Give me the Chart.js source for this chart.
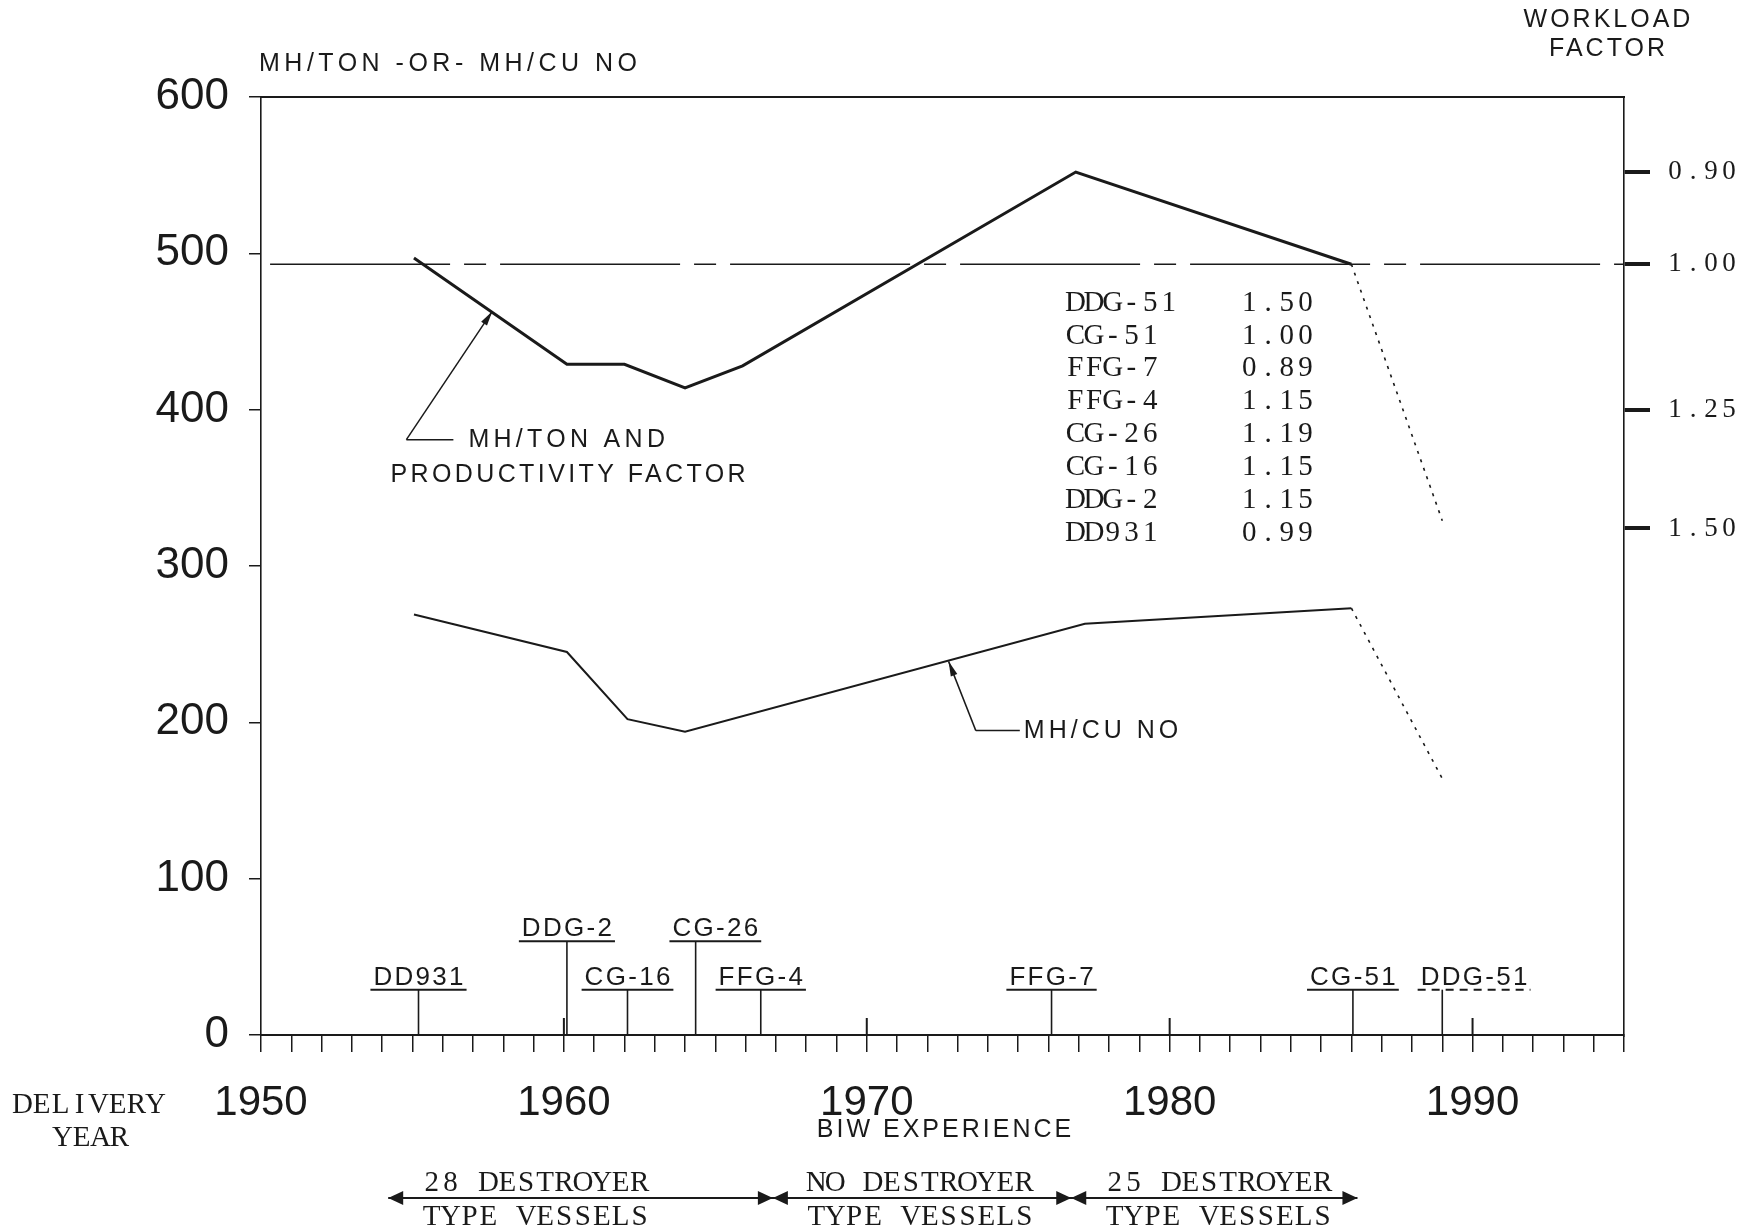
<!DOCTYPE html>
<html>
<head>
<meta charset="utf-8">
<script src="https://cdn.jsdelivr.net/npm/chart.js@4.4.1/dist/chart.umd.min.js"></script>
<style>
html, body { margin: 0; padding: 0; background: #fff; }
</style>
</head>
<body>
<canvas id="chart" width="1754" height="1230"></canvas>
<script>
// MH/TON (and productivity factor) by delivery year
const tonYears = [1955.05, 1960.1, 1962.0, 1964.0, 1965.9, 1976.9, 1986.0, 1989.0];
const tonValues = [497, 429, 429, 414, 428, 552, 493, 329];
const tonProjectedFrom = 6; // last segment is the dotted projection

// MH/CU NO by delivery year
const cuYears = [1955.05, 1960.1, 1962.1, 1964.0, 1977.2, 1986.0, 1989.0];
const cuValues = [269, 245, 202, 194, 263, 273, 164];
const cuProjectedFrom = 5;

// workload factor 1.00 reference line
const baseYears = [1950.3, 1995];
const baseValues = [493, 493];

const valueTicks = [0, 100, 200, 300, 400, 500, 600];
const yearLabels = ['1950', '1960', '1970', '1980', '1990'];
const decadeMarks = [1960, 1970, 1980, 1990];

// right hand axis: workload factor, placed on the MH/TON scale
const workloadTickValues = [552, 493, 400, 324];
const workloadTickLabels = ['0.90', '1.00', '1.25', '1.50'];

const shipNames = ['DD931', 'DDG-2', 'CG-16', 'CG-26', 'FFG-4', 'FFG-7', 'CG-51', 'DDG-51'];
const shipYears = [1955.2, 1960.1, 1962.1, 1964.35, 1966.5, 1976.1, 1986.05, 1989.0];
const workloadFactors = [0.99, 1.15, 1.15, 1.19, 1.15, 0.89, 1.00, 1.50];

const eraBounds = [1954.2, 1966.9, 1976.75, 1986.2];
const eraLabels = [['28 DESTROYER', 'TYPE VESSELS'], ['NO DESTROYER', 'TYPE VESSELS'], ['25 DESTROYER', 'TYPE VESSELS']];

// layout of the ship markers
const shipRow = [0, 1, 0, 1, 0, 0, 0, 0];
const rowLevels = [29, 60];
const shipLabelShift = [0, 0, 0, 0.65, 0, 0, 0, 1.05];

const ink = '#1a1a1a';
const sans = '"Liberation Sans", Arial, sans-serif';
const serif = '"Liberation Serif", "DejaVu Serif", serif';

const toPoints = (xs, ys) => xs.map((v, i) => ({ x: v, y: ys[i] }));

const line = (ctx, x1, y1, x2, y2) => {
    ctx.beginPath();
    ctx.moveTo(x1, y1);
    ctx.lineTo(x2, y2);
    ctx.stroke();
}

const arrowHead = (ctx, from, to, len, half) => {
    const a = Math.atan2(to[1] - from[1], to[0] - from[0]);
    ctx.beginPath();
    ctx.moveTo(to[0], to[1]);
    ctx.lineTo(to[0] - len * Math.cos(a) + half * Math.sin(a), to[1] - len * Math.sin(a) - half * Math.cos(a));
    ctx.lineTo(to[0] - len * Math.cos(a) - half * Math.sin(a), to[1] - len * Math.sin(a) + half * Math.cos(a));
    ctx.closePath();
    ctx.fill();
}

// typewriter style text: one character per fixed cell
const monoText = (ctx, text, x, y, cell) => {
    ctx.textAlign = 'center';
    for (let i = 0; i < text.length; i++) {
        ctx.fillText(text[i], x + cell * (i + 0.5), y);
    }
}

const spacedText = (ctx, text, x, y, spacing, align) => {
    ctx.letterSpacing = spacing + 'px';
    const w = ctx.measureText(text).width - spacing;
    let left = x;
    if (align === 'center') left = x - w / 2;
    ctx.textAlign = 'left';
    ctx.fillText(text, left, y);
    ctx.letterSpacing = '0px';
    return { left: left, width: w };
}

const notes = {
    id: 'notes',
    afterDraw(chart) {
        const { ctx, scales } = chart;
        const px = v => scales.x.getPixelForValue(v);
        const py = v => scales.y.getPixelForValue(v);
        ctx.save();
        ctx.strokeStyle = ink;
        ctx.fillStyle = ink;

        // decade marks above the year axis
        ctx.lineWidth = 2;
        decadeMarks.forEach(yr => line(ctx, px(yr), py(0), px(yr), py(0) - 17));

        // ship stems with underlined names
        ctx.textBaseline = 'alphabetic';
        shipNames.forEach((name, i) => {
            const sx = px(shipYears[i]);
            const top = py(rowLevels[shipRow[i]]);
            ctx.lineWidth = 1.6;
            line(ctx, sx, py(0), sx, top);
            ctx.font = '26px ' + sans;
            const t = spacedText(ctx, name, px(shipYears[i] + shipLabelShift[i]), top - 5, 2.3, 'center');
            ctx.lineWidth = 2;
            if (i === shipNames.length - 1) ctx.setLineDash([8, 6]);
            line(ctx, t.left - 3, top, t.left + t.width + 3, top);
            ctx.setLineDash([]);
        });

        // leader for MH/TON
        ctx.lineWidth = 1.5;
        ctx.textBaseline = 'middle';
        const tip1 = [px(1957.64), py(463)];
        const elb1 = [px(1954.8), py(380.8)];
        line(ctx, elb1[0], elb1[1], tip1[0], tip1[1]);
        arrowHead(ctx, elb1, tip1, 15, 3.5);
        line(ctx, elb1[0], elb1[1], elb1[0] + 47, elb1[1]);
        ctx.font = '25px ' + sans;
        spacedText(ctx, 'MH/TON AND', elb1[0] + 62, elb1[1], 4.3, 'left');
        spacedText(ctx, 'PRODUCTIVITY FACTOR', elb1[0] - 16, elb1[1] + 35, 3.4, 'left');

        // leader for MH/CU NO
        const tip2 = [px(1972.7), py(239)];
        const elb2 = [px(1973.6), py(194.7)];
        line(ctx, elb2[0], elb2[1], tip2[0], tip2[1]);
        arrowHead(ctx, elb2, tip2, 15, 3.5);
        line(ctx, elb2[0], elb2[1], elb2[0] + 44, elb2[1]);
        spacedText(ctx, 'MH/CU NO', elb2[0] + 48, elb2[1], 4, 'left');

        // workload factor table
        ctx.font = '29px ' + serif;
        for (let r = 0; r < shipNames.length; r++) {
            const i = shipNames.length - 1 - r;
            const ty = 303 + r * 32.9;
            monoText(ctx, shipNames[i], 1066, ty, 18.7);
            monoText(ctx, workloadFactors[i].toFixed(2), 1240, ty, 18.7);
        }

        // right axis labels
        ctx.font = '27px ' + serif;
        scales.y2.ticks.forEach((t, i) => {
            monoText(ctx, workloadTickLabels[i], 1666, scales.y2.getPixelForValue(t.value), 18);
        });

        // titles
        ctx.font = '25px ' + sans;
        spacedText(ctx, 'MH/TON -OR- MH/CU NO', 259, 64, 4.5, 'left');
        spacedText(ctx, 'WORKLOAD', 1607, 20, 3, 'center');
        spacedText(ctx, 'FACTOR', 1607, 49, 3, 'center');
        spacedText(ctx, 'BIW EXPERIENCE', 944, 1130, 3, 'center');

        ctx.font = '29px ' + serif;
        monoText(ctx, 'DELIVERY', 13, 1105, 19);
        monoText(ctx, 'YEAR', 53, 1138, 19);

        // destroyer eras along the bottom
        const ey = 1198;
        ctx.lineWidth = 2;
        line(ctx, px(eraBounds[0]), ey, px(eraBounds[eraBounds.length - 1]), ey);
        for (let k = 0; k < eraLabels.length; k++) {
            const a = px(eraBounds[k]);
            const b = px(eraBounds[k + 1]);
            arrowHead(ctx, [a + 20, ey], [a, ey], 15, 7);
            arrowHead(ctx, [b - 20, ey], [b, ey], 15, 7);
            monoText(ctx, eraLabels[k][0], a + 34, ey - 15, 18.9);
            monoText(ctx, eraLabels[k][1], a + 34, ey + 19, 18.9);
        }
        ctx.restore();
    }
};

new Chart(document.getElementById('chart'), {
    type: 'line',
    data: {
        datasets: [{
            label: 'MH/TON and productivity factor',
            data: toPoints(tonYears, tonValues),
            borderColor: ink,
            borderWidth: 3,
            pointRadius: 0,
            segment: {
                borderDash: c => c.p0DataIndex >= tonProjectedFrom ? [3, 6] : undefined,
                borderWidth: c => c.p0DataIndex >= tonProjectedFrom ? 1.6 : undefined
            }
        }, {
            label: 'MH/CU NO',
            data: toPoints(cuYears, cuValues),
            borderColor: ink,
            borderWidth: 2,
            pointRadius: 0,
            segment: {
                borderDash: c => c.p0DataIndex >= cuProjectedFrom ? [3, 6] : undefined,
                borderWidth: c => c.p0DataIndex >= cuProjectedFrom ? 1.6 : undefined
            }
        }, {
            label: 'Workload factor 1.00',
            data: toPoints(baseYears, baseValues),
            borderColor: ink,
            borderWidth: 1.6,
            borderDash: [180, 14, 22, 14],
            pointRadius: 0
        }]
    },
    options: {
        responsive: false,
        animation: false,
        layout: { padding: { left: 111, right: 0, top: 97, bottom: 95 } },
        plugins: { legend: { display: false }, tooltip: { enabled: false } },
        scales: {
            x: {
                type: 'linear',
                position: 'bottom',
                min: 1950,
                max: 1995,
                afterFit: a => { a.height = 100; },
                ticks: {
                    stepSize: 1,
                    autoSkip: false,
                    maxRotation: 0,
                    minRotation: 0,
                    padding: 26,
                    color: ink,
                    font: { family: sans, size: 42 },
                    callback: v => yearLabels.includes(String(v)) ? String(v) : ''
                },
                grid: { drawOnChartArea: false, tickLength: 17, color: ink, lineWidth: 1.5 },
                border: { display: true, color: ink, width: 2 }
            },
            xTop: {
                type: 'linear',
                position: 'top',
                min: 1950,
                max: 1995,
                afterFit: a => { a.height = 0; },
                ticks: { display: false },
                grid: { display: false },
                border: { display: true, color: ink, width: 2 }
            },
            y: {
                position: 'left',
                min: 0,
                max: 600,
                afterBuildTicks: a => { a.ticks = valueTicks.map(v => ({ value: v })); },
                afterFit: a => { a.width = 150; },
                ticks: { padding: 20, color: ink, font: { family: sans, size: 44 } },
                grid: { drawOnChartArea: false, tickLength: 12, color: ink, lineWidth: 1.5 },
                border: { display: true, color: ink, width: 1.6 }
            },
            y2: {
                position: 'right',
                min: 0,
                max: 600,
                afterBuildTicks: a => { a.ticks = workloadTickValues.map(v => ({ value: v })); },
                afterFit: a => { a.width = 130; },
                ticks: { display: false },
                grid: { drawOnChartArea: false, tickLength: 26, color: ink, lineWidth: 4 },
                border: { display: true, color: ink, width: 1.6 }
            }
        }
    },
    plugins: [notes]
});
</script>
</body>
</html>
